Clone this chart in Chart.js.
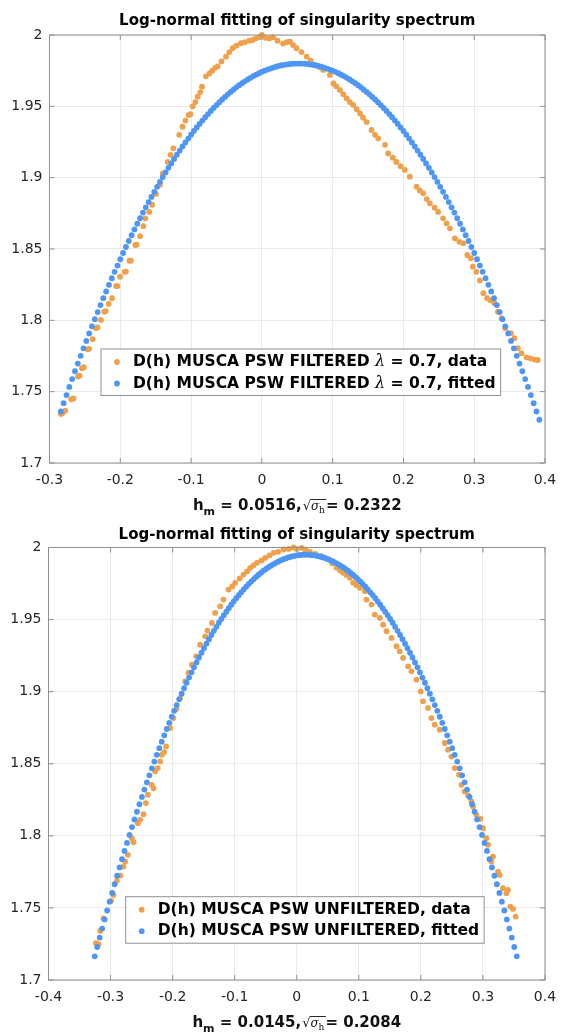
<!DOCTYPE html>
<html>
<head>
<meta charset="utf-8">
<title>Log-normal fitting of singularity spectrum</title>
<script src="https://cdn.jsdelivr.net/npm/chart.js@4.4.1/dist/chart.umd.min.js"></script>
<style>
  html, body { margin: 0; padding: 0; background: #fff; }
  canvas { display: block; }
</style>
</head>
<body>
<canvas id="topChart" width="566" height="516"></canvas>
<canvas id="bottomChart" width="566" height="517"></canvas>
<script>
// ---- data ----
const chartTitle = "Log-normal fitting of singularity spectrum";

const yTicks = [1.7, 1.75, 1.8, 1.85, 1.9, 1.95, 2];
const yTickLabels = ["1.7", "1.75", "1.8", "1.85", "1.9", "1.95", "2"];

const xTicksTop = [-0.3, -0.2, -0.1, 0, 0.1, 0.2, 0.3, 0.4];
const xTickLabelsTop = ["-0.3", "-0.2", "-0.1", "0", "0.1", "0.2", "0.3", "0.4"];
const xTicksBottom = [-0.4, -0.3, -0.2, -0.1, 0, 0.1, 0.2, 0.3, 0.4];
const xTickLabelsBottom = ["-0.4", "-0.3", "-0.2", "-0.1", "0", "0.1", "0.2", "0.3", "0.4"];

const labelsTop = ["D(h) MUSCA PSW FILTERED λ = 0.7, data", "D(h) MUSCA PSW FILTERED λ = 0.7, fitted"];
const labelsBottom = ["D(h) MUSCA PSW UNFILTERED, data", "D(h) MUSCA PSW UNFILTERED, fitted"];

const hmTop = "0.0516", sigmaTop = "0.2322";
const hmBottom = "0.0145", sigmaBottom = "0.2084";

// filtered, data
const topDataH = [-0.2838,-0.2810,-0.2777,-0.2692,-0.2660,-0.2598,-0.2575,-0.2540,-0.2515,-0.2460,
  -0.2440,-0.2390,-0.2343,-0.2320,-0.2273,-0.2226,-0.2205,-0.2164,-0.2117,-0.2060,
  -0.2040,-0.2004,-0.1940,-0.1920,-0.1870,-0.1850,-0.1788,-0.1770,-0.1720,-0.1675,
  -0.1647,-0.1590,-0.1550,-0.1496,-0.1440,-0.1400,-0.1330,-0.1290,-0.1250,-0.1167,
  -0.1120,-0.1080,-0.1034,-0.1010,-0.0977,-0.0940,-0.0907,-0.0870,-0.0846,-0.0790,
  -0.0740,-0.0700,-0.0660,-0.0624,-0.0570,-0.0507,-0.0460,-0.0412,-0.0360,-0.0295,
  -0.0240,-0.0178,-0.0130,-0.0083,-0.0040,0.0000,0.0050,0.0105,0.0160,0.0220,
  0.0300,0.0350,0.0397,0.0440,0.0490,0.0560,0.0633,0.0690,0.0750,0.0810,
  0.0867,0.0960,0.1010,0.1050,0.1103,0.1150,0.1198,0.1245,0.1290,0.1340,
  0.1386,0.1430,0.1480,0.1550,0.1600,0.1644,0.1740,0.1785,0.1850,0.1900,
  0.1960,0.2020,0.2090,0.2186,0.2230,0.2280,0.2330,0.2374,0.2440,0.2490,
  0.2560,0.2610,0.2657,0.2727,0.2790,0.2845,0.2903,0.2953,0.2980,0.3030,
  0.3080,0.3130,0.3183,0.3230,0.3285,0.3336,0.3387,0.3438,0.3516,0.3567,
  0.3617,0.3668,0.3740,0.3795,0.3850,0.3897];
const topDataD = [1.7344,1.7352,1.7367,1.7447,1.7452,1.7606,1.7612,1.7665,1.7672,1.7797,
  1.7800,1.7868,1.7945,1.7950,1.8003,1.8060,1.8065,1.8115,1.8155,1.8240,
  1.8240,1.8306,1.8340,1.8342,1.8418,1.8418,1.8528,1.8530,1.8590,1.8660,
  1.8715,1.8760,1.8810,1.8886,1.8950,1.9030,1.9110,1.9160,1.9206,1.9300,
  1.9357,1.9400,1.9440,1.9445,1.9500,1.9530,1.9568,1.9600,1.9638,1.9710,
  1.9731,1.9750,1.9770,1.9780,1.9815,1.9848,1.9880,1.9907,1.9925,1.9942,
  1.9950,1.9960,1.9965,1.9977,1.9985,2.0000,1.9980,1.9977,1.9985,1.9960,
  1.9940,1.9950,1.9953,1.9930,1.9907,1.9880,1.9848,1.9820,1.9790,1.9775,
  1.9755,1.9720,1.9660,1.9640,1.9615,1.9585,1.9556,1.9530,1.9510,1.9480,
  1.9450,1.9420,1.9390,1.9334,1.9300,1.9276,1.9230,1.9170,1.9140,1.9110,
  1.9080,1.9054,1.9007,1.8937,1.8910,1.8890,1.8850,1.8820,1.8790,1.8760,
  1.8715,1.8680,1.8645,1.8575,1.8550,1.8540,1.8458,1.8435,1.8376,1.8340,
  1.8280,1.8190,1.8155,1.8140,1.8120,1.8060,1.8015,1.7945,1.7910,1.7875,
  1.7805,1.7770,1.7740,1.7734,1.7725,1.7722];

// filtered, fitted
const topFitH = [-0.284,-0.280,-0.276,-0.272,-0.268,-0.264,-0.260,-0.256,-0.252,-0.248,
  -0.244,-0.240,-0.236,-0.232,-0.228,-0.224,-0.220,-0.216,-0.212,-0.208,
  -0.204,-0.200,-0.196,-0.192,-0.188,-0.184,-0.180,-0.176,-0.172,-0.168,
  -0.164,-0.160,-0.156,-0.152,-0.148,-0.144,-0.140,-0.136,-0.132,-0.128,
  -0.124,-0.120,-0.116,-0.112,-0.108,-0.104,-0.100,-0.096,-0.092,-0.088,
  -0.084,-0.080,-0.076,-0.072,-0.068,-0.064,-0.060,-0.056,-0.052,-0.048,
  -0.044,-0.040,-0.036,-0.032,-0.028,-0.024,-0.020,-0.016,-0.012,-0.008,
  -0.004,0.000,0.004,0.008,0.012,0.016,0.020,0.024,0.028,0.032,
  0.036,0.040,0.044,0.048,0.052,0.056,0.060,0.064,0.068,0.072,
  0.076,0.080,0.084,0.088,0.092,0.096,0.100,0.104,0.108,0.112,
  0.116,0.120,0.124,0.128,0.132,0.136,0.140,0.144,0.148,0.152,
  0.156,0.160,0.164,0.168,0.172,0.176,0.180,0.184,0.188,0.192,
  0.196,0.200,0.204,0.208,0.212,0.216,0.220,0.224,0.228,0.232,
  0.236,0.240,0.244,0.248,0.252,0.256,0.260,0.264,0.268,0.272,
  0.276,0.280,0.284,0.288,0.292,0.296,0.300,0.304,0.308,0.312,
  0.316,0.320,0.324,0.328,0.332,0.336,0.340,0.344,0.348,0.352,
  0.356,0.360,0.364,0.368,0.372,0.376,0.380,0.384,0.388,0.392];
const topFitD = [1.7361,1.7419,1.7476,1.7533,1.7588,1.7643,1.7697,1.7751,1.7804,1.7856,
  1.7908,1.7958,1.8008,1.8058,1.8107,1.8155,1.8202,1.8249,1.8295,1.8340,
  1.8384,1.8428,1.8472,1.8514,1.8556,1.8597,1.8637,1.8677,1.8716,1.8755,
  1.8792,1.8829,1.8865,1.8901,1.8936,1.8970,1.9004,1.9037,1.9069,1.9100,
  1.9131,1.9161,1.9190,1.9219,1.9247,1.9274,1.9301,1.9327,1.9352,1.9377,
  1.9400,1.9424,1.9446,1.9468,1.9489,1.9509,1.9529,1.9548,1.9566,1.9584,
  1.9601,1.9617,1.9633,1.9648,1.9662,1.9675,1.9688,1.9700,1.9712,1.9722,
  1.9732,1.9742,1.9750,1.9758,1.9765,1.9772,1.9778,1.9783,1.9788,1.9791,
  1.9794,1.9797,1.9799,1.9800,1.9800,1.9800,1.9799,1.9797,1.9794,1.9791,
  1.9788,1.9783,1.9778,1.9772,1.9765,1.9758,1.9750,1.9742,1.9732,1.9722,
  1.9712,1.9700,1.9688,1.9675,1.9662,1.9648,1.9633,1.9617,1.9601,1.9584,
  1.9566,1.9548,1.9529,1.9509,1.9489,1.9468,1.9446,1.9424,1.9400,1.9377,
  1.9352,1.9327,1.9301,1.9274,1.9247,1.9219,1.9190,1.9161,1.9131,1.9100,
  1.9069,1.9037,1.9004,1.8970,1.8936,1.8901,1.8865,1.8829,1.8792,1.8755,
  1.8716,1.8677,1.8637,1.8597,1.8556,1.8514,1.8472,1.8428,1.8384,1.8340,
  1.8295,1.8249,1.8202,1.8155,1.8107,1.8058,1.8008,1.7958,1.7908,1.7856,
  1.7804,1.7751,1.7697,1.7643,1.7588,1.7533,1.7476,1.7419,1.7361,1.7303];

// unfiltered, data
const bottomDataH = [-0.3236,-0.3194,-0.3167,-0.3114,-0.2990,-0.2953,-0.2898,-0.2845,-0.2792,-0.2765,
  -0.2722,-0.2657,-0.2630,-0.2560,-0.2523,-0.2470,-0.2431,-0.2399,-0.2336,-0.2309,
  -0.2282,-0.2239,-0.2201,-0.2174,-0.2137,-0.2105,-0.2040,-0.1987,-0.1940,-0.1879,
  -0.1798,-0.1745,-0.1690,-0.1620,-0.1556,-0.1476,-0.1439,-0.1368,-0.1315,-0.1234,
  -0.1181,-0.1100,-0.1040,-0.0992,-0.0920,-0.0858,-0.0800,-0.0750,-0.0700,-0.0642,
  -0.0570,-0.0508,-0.0440,-0.0374,-0.0300,-0.0213,-0.0130,-0.0052,0.0000,0.0079,
  0.0140,0.0212,0.0300,0.0400,0.0450,0.0507,0.0570,0.0640,0.0700,0.0748,
  0.0800,0.0856,0.0909,0.0960,0.1017,0.1097,0.1124,0.1205,0.1258,0.1339,
  0.1392,0.1446,0.1527,0.1607,0.1660,0.1714,0.1794,0.1849,0.1929,0.1998,
  0.2035,0.2116,0.2170,0.2224,0.2304,0.2385,0.2438,0.2492,0.2545,0.2615,
  0.2653,0.2706,0.2760,0.2814,0.2840,0.2895,0.2959,0.3001,0.3056,0.3082,
  0.3136,0.3162,0.3243,0.3270,0.3323,0.3377,0.3404,0.3441,0.3484,0.3527];
const bottomDataD = [1.7255,1.7248,1.7340,1.7428,1.7549,1.7590,1.7688,1.7724,1.7787,1.7822,
  1.7868,1.7984,1.7956,1.8088,1.8111,1.8150,1.8227,1.8285,1.8354,1.8330,
  1.8447,1.8470,1.8516,1.8563,1.8581,1.8620,1.8748,1.8817,1.8880,1.8956,
  1.9072,1.9130,1.9187,1.9245,1.9326,1.9384,1.9424,1.9477,1.9546,1.9592,
  1.9639,1.9708,1.9730,1.9755,1.9785,1.9812,1.9835,1.9859,1.9875,1.9894,
  1.9910,1.9928,1.9945,1.9963,1.9970,1.9986,1.9990,2.0000,1.9990,1.9998,
  1.9985,1.9970,1.9955,1.9940,1.9930,1.9917,1.9890,1.9859,1.9840,1.9824,
  1.9810,1.9790,1.9755,1.9740,1.9720,1.9697,1.9639,1.9604,1.9535,1.9512,
  1.9465,1.9419,1.9373,1.9315,1.9280,1.9234,1.9176,1.9141,1.9083,1.9002,
  1.8933,1.8887,1.8817,1.8771,1.8736,1.8644,1.8597,1.8550,1.8470,1.8424,
  1.8354,1.8308,1.8280,1.8238,1.8204,1.8146,1.8118,1.8053,1.7984,1.7938,
  1.7822,1.7856,1.7752,1.7729,1.7637,1.7602,1.7625,1.7509,1.7493,1.7440];

// unfiltered, fitted
const bottomFitH = [-0.3255,-0.3215,-0.3175,-0.3135,-0.3095,-0.3055,-0.3015,-0.2975,-0.2935,-0.2895,
  -0.2855,-0.2815,-0.2775,-0.2735,-0.2695,-0.2655,-0.2615,-0.2575,-0.2535,-0.2495,
  -0.2455,-0.2415,-0.2375,-0.2335,-0.2295,-0.2255,-0.2215,-0.2175,-0.2135,-0.2095,
  -0.2055,-0.2015,-0.1975,-0.1935,-0.1895,-0.1855,-0.1815,-0.1775,-0.1735,-0.1695,
  -0.1655,-0.1615,-0.1575,-0.1535,-0.1495,-0.1455,-0.1415,-0.1375,-0.1335,-0.1295,
  -0.1255,-0.1215,-0.1175,-0.1135,-0.1095,-0.1055,-0.1015,-0.0975,-0.0935,-0.0895,
  -0.0855,-0.0815,-0.0775,-0.0735,-0.0695,-0.0655,-0.0615,-0.0575,-0.0535,-0.0495,
  -0.0455,-0.0415,-0.0375,-0.0335,-0.0295,-0.0255,-0.0215,-0.0175,-0.0135,-0.0095,
  -0.0055,-0.0015,0.0025,0.0065,0.0105,0.0145,0.0185,0.0225,0.0265,0.0305,
  0.0345,0.0385,0.0425,0.0465,0.0505,0.0545,0.0585,0.0625,0.0665,0.0705,
  0.0745,0.0785,0.0825,0.0865,0.0905,0.0945,0.0985,0.1025,0.1065,0.1105,
  0.1145,0.1185,0.1225,0.1265,0.1305,0.1345,0.1385,0.1425,0.1465,0.1505,
  0.1545,0.1585,0.1625,0.1665,0.1705,0.1745,0.1785,0.1825,0.1865,0.1905,
  0.1945,0.1985,0.2025,0.2065,0.2105,0.2145,0.2185,0.2225,0.2265,0.2305,
  0.2345,0.2385,0.2425,0.2465,0.2505,0.2545,0.2585,0.2625,0.2665,0.2705,
  0.2745,0.2785,0.2825,0.2865,0.2905,0.2945,0.2985,0.3025,0.3065,0.3105,
  0.3145,0.3185,0.3225,0.3265,0.3305,0.3345,0.3385,0.3425,0.3465,0.3505,
  0.3545];
const bottomFitD = [1.7164,1.7229,1.7294,1.7357,1.7420,1.7482,1.7543,1.7604,1.7664,1.7723,
  1.7781,1.7838,1.7895,1.7951,1.8006,1.8061,1.8114,1.8167,1.8219,1.8270,
  1.8321,1.8371,1.8420,1.8468,1.8515,1.8562,1.8608,1.8653,1.8697,1.8741,
  1.8784,1.8826,1.8867,1.8907,1.8947,1.8986,1.9024,1.9062,1.9098,1.9134,
  1.9169,1.9203,1.9237,1.9270,1.9302,1.9333,1.9364,1.9393,1.9422,1.9450,
  1.9478,1.9504,1.9530,1.9555,1.9579,1.9603,1.9626,1.9648,1.9669,1.9689,
  1.9709,1.9728,1.9746,1.9763,1.9780,1.9796,1.9811,1.9825,1.9839,1.9851,
  1.9863,1.9874,1.9885,1.9894,1.9903,1.9911,1.9919,1.9925,1.9931,1.9936,
  1.9940,1.9944,1.9947,1.9948,1.9950,1.9950,1.9950,1.9948,1.9947,1.9944,
  1.9940,1.9936,1.9931,1.9925,1.9919,1.9911,1.9903,1.9894,1.9885,1.9874,
  1.9863,1.9851,1.9839,1.9825,1.9811,1.9796,1.9780,1.9763,1.9746,1.9728,
  1.9709,1.9689,1.9669,1.9648,1.9626,1.9603,1.9579,1.9555,1.9530,1.9504,
  1.9478,1.9450,1.9422,1.9393,1.9364,1.9333,1.9302,1.9270,1.9237,1.9203,
  1.9169,1.9134,1.9098,1.9062,1.9024,1.8986,1.8947,1.8907,1.8867,1.8826,
  1.8784,1.8741,1.8697,1.8653,1.8608,1.8562,1.8515,1.8468,1.8420,1.8371,
  1.8321,1.8270,1.8219,1.8167,1.8114,1.8061,1.8006,1.7951,1.7895,1.7838,
  1.7781,1.7723,1.7664,1.7604,1.7543,1.7482,1.7420,1.7357,1.7294,1.7229,
  1.7164];

// ---- styling ----
const ORANGE = "#F0A04B";
const BLUE = "#4D96F5";
const FONT = "DejaVu Sans";
const AXIS = "#8f8f8f";

Chart.defaults.font.family = FONT;
Chart.defaults.color = "#262626";

function pairs(hs, ds) {
  return hs.map((h, i) => ({ x: h, y: ds[i] }));
}

function runWidth(ctx, runs) {
  let w = 0;
  runs.forEach(r => { ctx.font = r.font; w += ctx.measureText(r.text).width + (r.after || 0); });
  return w;
}

function drawRuns(ctx, runs, x, y) {
  runs.forEach(r => {
    ctx.font = r.font;
    const w = ctx.measureText(r.text).width;
    ctx.fillText(r.text, x, y + (r.dy || 0));
    if (r.over) {
      ctx.fillRect(x - 0.5, y - r.over, w + (r.after || 0) + 1, 0.9);
    }
    x += w + (r.after || 0);
  });
}

// legend label with the greek lambda in an italic serif
function labelRuns(label) {
  const bold = "bold 15.5px " + FONT;
  const parts = label.split("λ");
  if (parts.length === 1) return [{ text: label, font: bold }];
  return [
    { text: parts[0], font: bold },
    { text: "λ", font: "italic 16px 'DejaVu Serif'" },
    { text: parts[1], font: bold }
  ];
}

// box round the axes with inward ticks, like the original figure
const frame = {
  id: "frame",
  afterDatasetsDraw(chart) {
    const { ctx, chartArea: a, scales: { x, y } } = chart;
    ctx.save();
    ctx.strokeStyle = AXIS;
    ctx.lineWidth = 1;
    ctx.strokeRect(a.left, a.top, a.right - a.left, a.bottom - a.top);
    ctx.beginPath();
    x.ticks.forEach(t => {
      const px = x.getPixelForValue(t.value);
      ctx.moveTo(px, a.bottom); ctx.lineTo(px, a.bottom - 5);
      ctx.moveTo(px, a.top); ctx.lineTo(px, a.top + 5);
    });
    y.ticks.forEach(t => {
      const py = y.getPixelForValue(t.value);
      ctx.moveTo(a.left, py); ctx.lineTo(a.left + 5, py);
      ctx.moveTo(a.right, py); ctx.lineTo(a.right - 5, py);
    });
    ctx.stroke();
    ctx.restore();
  }
};

const insideLegend = {
  id: "insideLegend",
  afterDraw(chart, args, o) {
    const { ctx, chartArea: a } = chart;
    const items = o.order.map(i => chart.data.datasets[i]);
    const rows = items.map(ds => labelRuns(ds.label));
    ctx.save();
    ctx.textBaseline = "middle";
    const textW = Math.max(...rows.map(r => runWidth(ctx, r)));
    const left = a.left + o.dx, top = a.top + o.dy;
    const w = 32 + textW + 5, h = 46.5;
    ctx.fillStyle = "#fff";
    ctx.fillRect(left, top, w, h);
    ctx.strokeStyle = AXIS;
    ctx.lineWidth = 1;
    ctx.strokeRect(left, top, w, h);
    items.forEach((ds, i) => {
      const cy = top + 13 + i * 21.5;
      ctx.fillStyle = ds.backgroundColor;
      ctx.beginPath();
      ctx.arc(left + 16, cy, 2.9, 0, Math.PI * 2);
      ctx.fill();
      ctx.fillStyle = "#000";
      drawRuns(ctx, rows[i], left + 32, cy);
    });
    ctx.restore();
  }
};

// x label: h_m = ..., sqrt(sigma_h) = ...
const xLabel = {
  id: "xLabel",
  afterDraw(chart, args, o) {
    const { ctx, chartArea: a } = chart;
    const b15 = "bold 15px " + FONT;
    const runs = [
      { text: "h", font: b15 },
      { text: "m", font: "bold 11px " + FONT, dy: 5 },
      { text: " = " + o.hm + ",", font: b15, after: 1 },
      { text: "√", font: "13px 'DejaVu Serif'" },
      { text: "σ", font: "italic 12px 'DejaVu Serif'", over: 11 },
      { text: "h", font: "9px 'DejaVu Serif'", dy: 2.5, over: 11, after: 1 },
      { text: "= " + o.sigma, font: b15 }
    ];
    ctx.save();
    ctx.fillStyle = "#111";
    ctx.textBaseline = "alphabetic";
    const w = runWidth(ctx, runs);
    drawRuns(ctx, runs, (a.left + a.right) / 2 - w / 2, a.bottom + 47);
    ctx.restore();
  }
};

function makeChart(id, c) {
  const canvas = document.getElementById(id);
  return new Chart(canvas, {
    type: "scatter",
    data: {
      datasets: [
        { label: c.labels[0], data: pairs(c.dataH, c.dataD), backgroundColor: ORANGE, order: 1 },
        { label: c.labels[1], data: pairs(c.fitH, c.fitD), backgroundColor: BLUE, order: 0 }
      ]
    },
    options: {
      responsive: false,
      animation: false,
      events: [],
      layout: { padding: { left: 0, right: 566 - c.area.right, top: 0, bottom: 0 } },
      elements: { point: { radius: 2.9, hoverRadius: 2.9, borderWidth: 0 } },
      datasets: { scatter: { clip: false } },
      scales: {
        x: {
          type: "linear",
          min: c.xTicks[0],
          max: c.xTicks[c.xTicks.length - 1],
          afterBuildTicks: s => { s.ticks = c.xTicks.map(v => ({ value: v })); },
          afterFit: s => { s.height = canvas.height / (window.devicePixelRatio || 1) - c.area.bottom; },
          ticks: { autoSkip: false, maxRotation: 0, padding: 9, font: { size: 14 }, color: "#262626",
                   callback: (v, i) => c.xLabels[i] },
          grid: { color: "#e9e9e9", drawTicks: false },
          border: { display: false }
        },
        y: {
          type: "linear",
          min: 1.7,
          max: 2,
          afterBuildTicks: s => { s.ticks = yTicks.map(v => ({ value: v })); },
          afterFit: s => { s.width = c.area.left; },
          ticks: { autoSkip: false, padding: 7, font: { size: 14 }, color: "#262626",
                   callback: (v, i) => yTickLabels[i] },
          grid: { color: "#e9e9e9", drawTicks: false },
          border: { display: false }
        }
      },
      plugins: {
        legend: { display: false },
        tooltip: { enabled: false },
        title: {
          display: true,
          text: chartTitle,
          fullSize: false,
          color: "#000",
          font: { size: 15, weight: "bold" },
          padding: c.titlePad
        },
        insideLegend: { order: [0, 1], dx: c.legend.dx, dy: c.legend.dy },
        xLabel: { hm: c.hm, sigma: c.sigma }
      }
    },
    plugins: [frame, insideLegend, xLabel]
  });
}

makeChart("topChart", {
  dataH: topDataH, dataD: topDataD, fitH: topFitH, fitD: topFitD,
  labels: labelsTop, xTicks: xTicksTop, xLabels: xTickLabelsTop,
  area: { left: 49.5, right: 545, bottom: 463 },
  titlePad: { top: 12.3, bottom: 4.7 },
  legend: { dx: 51.5, dy: 314 },
  hm: hmTop, sigma: sigmaTop
});

makeChart("bottomChart", {
  dataH: bottomDataH, dataD: bottomDataD, fitH: bottomFitH, fitD: bottomFitD,
  labels: labelsBottom, xTicks: xTicksBottom, xLabels: xTickLabelsBottom,
  area: { left: 48.5, right: 545, bottom: 464 },
  titlePad: { top: 10.3, bottom: 3.2 },
  legend: { dx: 77.2, dy: 349.2 },
  hm: hmBottom, sigma: sigmaBottom
});
</script>
</body>
</html>
